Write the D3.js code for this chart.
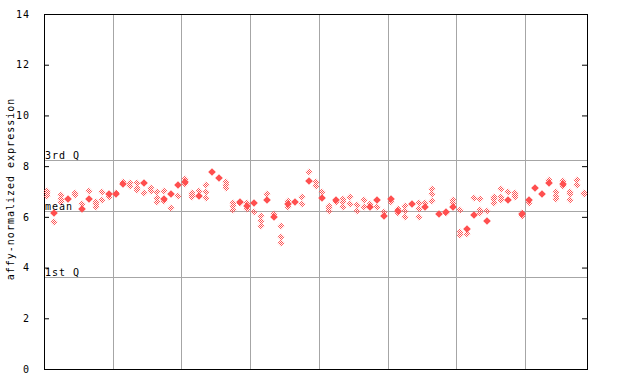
<!DOCTYPE html>
<html>
<head>
<meta charset="utf-8">
<script src="https://cdn.jsdelivr.net/npm/d3@7"></script>
<style>
  body { margin: 0; background: #fff; }
  text { font-family: 'DejaVu Sans Mono', monospace; font-size: 10px; letter-spacing: 1px; fill: #000; }
</style>
</head>
<body>
<svg width="640" height="384"></svg>
<script>
// one solid diamond per sample (null = none)
const solid = [
  null, 6.14, null, 6.72, null, 6.31, 6.72, null, null, 6.91,
  6.91, 7.28, null, null, 7.32, null, null, 6.70, 6.89, 7.24,
  7.37, null, 6.84, null, 7.78, 7.55, null, null, 6.59, 6.43,
  6.56, null, 6.66, 6.01, null, 6.51, 6.59, null, 7.43, null,
  6.76, null, 6.66, null, null, null, null, 6.40, 6.66, 6.05,
  6.70, 6.23, null, 6.49, null, 6.40, null, 6.10, 6.19, 6.40,
  null, 5.53, 6.09, null, 5.85, null, null, 6.66, null, 6.10,
  6.66, 7.15, 6.91, 7.35, null, 7.30, null, null, null
];

// checkered diamonds per sample
const open = [
  [7.03, 6.93, 6.82], [5.80], [6.88, 6.70, 6.58], [], [6.95, 6.85], [6.51], [7.01], [6.60, 6.50, 6.40], [6.99, 6.68], [6.77],
  [6.95], [7.39], [7.35, 7.22], [7.33, 7.15, 7.05], [6.95], [7.14, 7.03], [6.97, 6.73, 6.59], [7.01, 6.61], [6.34], [6.82],
  [7.51, 7.30], [6.95, 6.85, 6.77], [7.02], [7.26, 6.97, 6.73], [], [], [7.37, 7.26, 7.13], [6.56, 6.43, 6.27], [6.55], [6.56, 6.30],
  [6.18], [6.05, 5.84, 5.65], [6.90], [6.11], [5.64, 5.19, 4.96], [6.63, 6.39], [], [6.77, 6.49], [7.76], [7.39, 7.22],
  [6.97], [6.43, 6.34, 6.24], [6.57], [6.70, 6.57, 6.40], [6.77, 6.49], [6.45, 6.22], [6.65, 6.39], [6.49], [6.38], [6.20],
  [6.59], [6.31, 6.15], [6.43, 6.22, 6.01], [], [6.53, 6.31, 6.01], [6.53], [7.09, 6.89, 6.61], [], [6.14], [6.66, 6.53],
  [6.26, 5.40, 5.30], [5.34], [6.73], [6.70, 6.27, 6.16], [6.23], [6.80, 6.69, 6.53], [7.09, 6.77, 6.66], [6.97], [6.95, 6.85, 6.77], [6.16, 6.03],
  [6.53], [], [], [7.45], [6.99, 6.82, 6.72], [7.40, 7.22], [6.99, 6.90, 6.68], [7.45, 7.26], [6.95, 6.89]
];

const yTicks = [0, 2, 4, 6, 8, 10, 12, 14];
const groupBreaks = [9.5, 19.5, 29.5, 39.5, 49.5, 59.5, 69.5];
const refLines = [
  { label: '3rd Q', value: 8.24 },
  { label: 'mean', value: 6.23 },
  { label: '1st Q', value: 3.62 }
];
const yLabel = 'affy-normalized expression';

const red = '#ff4f4f';
const margin = { left: 44, right: 53, top: 14, bottom: 15 };

const svg = d3.select('svg');
const width = +svg.attr('width');
const height = +svg.attr('height');
const innerWidth = width - margin.left - margin.right;
const innerHeight = height - margin.top - margin.bottom;

const pattern = svg.append('defs').append('pattern')
    .attr('id', 'checker')
    .attr('patternUnits', 'userSpaceOnUse')
    .attr('width', 2)
    .attr('height', 2);
pattern.append('rect').attr('width', 1).attr('height', 1).attr('fill', red);
pattern.append('rect').attr('x', 1).attr('y', 1).attr('width', 1).attr('height', 1).attr('fill', red);

const g = svg.append('g')
    .attr('transform', `translate(${margin.left},${margin.top})`);

const xScale = d3.scaleLinear()
    .domain([-0.5, solid.length - 0.5])
    .range([0, innerWidth]);

const yScale = d3.scaleLinear()
    .domain([0, 14])
    .range([innerHeight, 0]);

// grid
g.selectAll('.vgrid').data(groupBreaks)
  .enter().append('line')
    .attr('class', 'vgrid')
    .attr('x1', d => Math.round(xScale(d)) + 0.5)
    .attr('x2', d => Math.round(xScale(d)) + 0.5)
    .attr('y1', 0)
    .attr('y2', innerHeight)
    .attr('stroke', '#a6a6a6');

g.selectAll('.hline').data(refLines)
  .enter().append('line')
    .attr('class', 'hline')
    .attr('x1', 0)
    .attr('x2', innerWidth)
    .attr('y1', d => Math.round(yScale(d.value)) + 0.5)
    .attr('y2', d => Math.round(yScale(d.value)) + 0.5)
    .attr('stroke', '#a6a6a6');

g.selectAll('.hlabel').data(refLines)
  .enter().append('text')
    .attr('class', 'hlabel')
    .attr('x', 1)
    .attr('y', d => Math.round(yScale(d.value)) - 1)
    .text(d => d.label);

// axes
const yAxisL = d3.axisLeft(yScale).tickValues(yTicks).tickSize(-5).tickPadding(14);
const yAxisR = d3.axisRight(yScale).tickValues(yTicks).tickSize(-5).tickFormat('');

const yAxisLG = g.append('g').call(yAxisL);
const yAxisRG = g.append('g').attr('transform', `translate(${innerWidth},0)`).call(yAxisR);
[yAxisLG, yAxisRG].forEach(a => {
  a.select('.domain').remove();
  a.selectAll('line').attr('stroke', '#000');
  a.attr('font-family', null).attr('font-size', null);
  a.selectAll('text').attr('fill', '#000');
});

g.append('rect')
    .attr('x', 0.5)
    .attr('y', 0.5)
    .attr('width', innerWidth)
    .attr('height', innerHeight)
    .attr('fill', 'none')
    .attr('stroke', '#000');

svg.append('text')
    .attr('transform', `translate(14, 189) rotate(-90)`)
    .style('text-anchor', 'middle')
    .text(yLabel);

// points
const diamond = (cx, cy, r) => `M${cx},${cy - r}L${cx + r},${cy}L${cx},${cy + r}L${cx - r},${cy}Z`;

const openPts = [];
open.forEach((vals, i) => vals.forEach(v => openPts.push({ i, v })));
const solidPts = solid.map((v, i) => ({ i, v })).filter(d => d.v !== null);

g.selectAll('.open').data(openPts)
  .enter().append('path')
    .attr('class', 'open')
    .attr('d', d => diamond(Math.round(xScale(d.i)), Math.round(yScale(d.v)), 3.5))
    .attr('fill', 'url(#checker)');

g.selectAll('.solid').data(solidPts)
  .enter().append('path')
    .attr('class', 'solid')
    .attr('d', d => diamond(Math.round(xScale(d.i)), Math.round(yScale(d.v)), 3.8))
    .attr('fill', red);
</script>
</body>
</html>
